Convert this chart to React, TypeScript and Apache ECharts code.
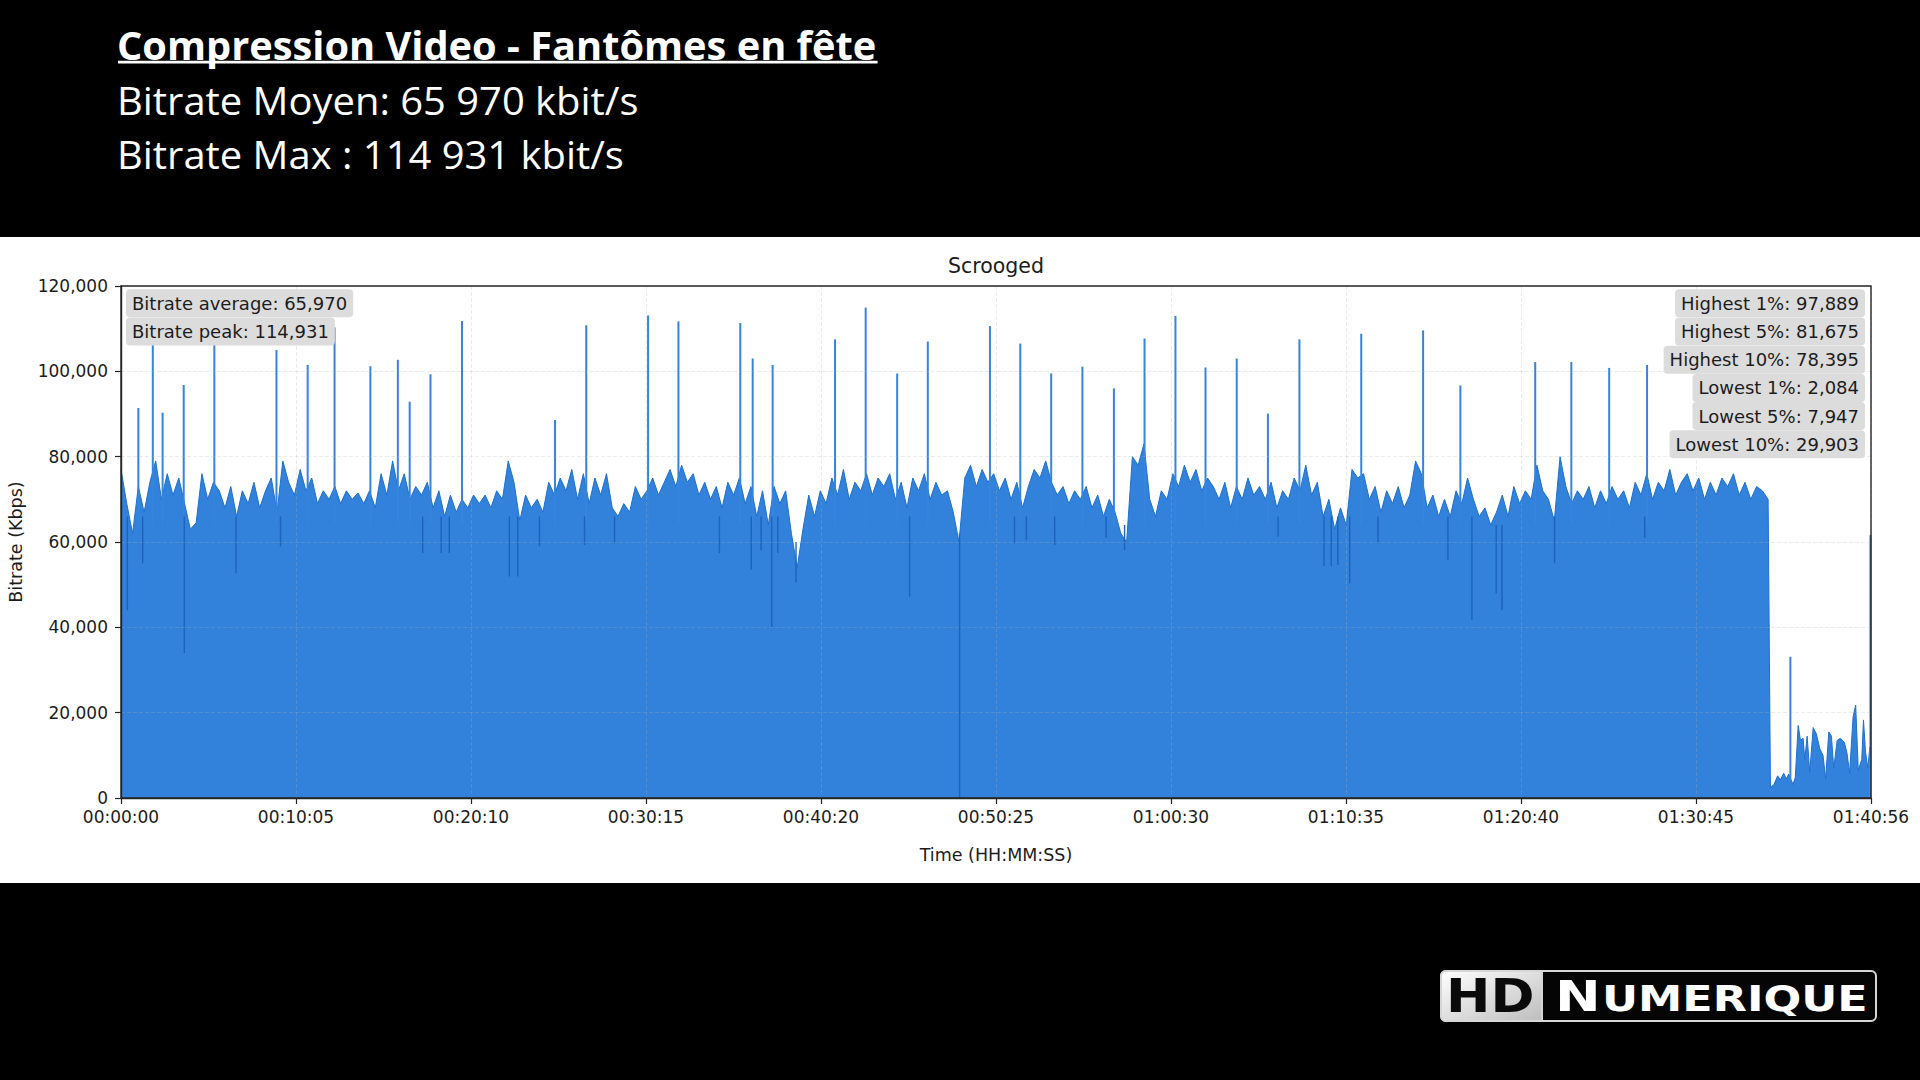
import React, { useEffect, useRef } from "react";
import * as echarts from "echarts";

// ---------- texts ----------
const headerTitle = "Compression Video - Fantômes en fête";
const headerLine2 = "Bitrate Moyen: 65 970 kbit/s";
const headerLine3 = "Bitrate Max : 114 931 kbit/s";
const chartTitle = "Scrooged";
const xAxisName = "Time (HH:MM:SS)";
const yAxisName = "Bitrate (Kbps)";

// ---------- axes ----------
const xTickLabels = [
  "00:00:00", "00:10:05", "00:20:10", "00:30:15", "00:40:20", "00:50:25",
  "01:00:30", "01:10:35", "01:20:40", "01:30:45", "01:40:56",
];
const DURATION_S = 6056;
const Y_MAX = 120000;
const Y_STEP = 20000;

// ---------- stats annotations ----------
const statsLeft = ["Bitrate average: 65,970", "Bitrate peak: 114,931"];
const statsRight = [
  "Highest 1%: 97,889",
  "Highest 5%: 81,675",
  "Highest 10%: 78,395",
  "Lowest 1%: 2,084",
  "Lowest 5%: 7,947",
  "Lowest 10%: 29,903",
];

// ---------- data (kbps), body sampled every 20 s from 0 to 5700 s ----------
const SAMPLE_STEP_S = 20;
const bitrateBody = [
  // 0 - 1520 s
  77000, 69000, 62000, 73000, 67000, 74000, 79000, 70000, 76000, 71000,
  75000, 69000, 63000, 64500, 76000, 70000, 74000, 72000, 68000, 73000,
  66000, 72000, 69000, 74000, 68000, 72000, 75000, 67000, 79000, 74000,
  71000, 77000, 72000, 75000, 69000, 72000, 70000, 73000, 69000, 72000,
  70000, 71500, 69000, 72000, 68000, 76000, 71000, 79000, 72000, 76000,
  70000, 73000, 71000, 74000, 68000, 72000, 66000, 71000, 67000, 70000,
  68000, 71000, 69000, 71000, 68000, 72000, 70000, 79000, 74000, 65000,
  71000, 68000, 70000, 67000, 74000, 71000, 75000,
  // 1540 - 3040 s
  72000, 77000, 70000, 76000, 69000, 75000, 71000, 76000, 68000, 66000,
  69000, 67000, 73000, 70000, 72000, 75000, 71000, 74000, 77000, 73000,
  78000, 74000, 76000, 71000, 74000, 70000, 73000, 68000, 74000, 71000,
  75000, 69000, 73000, 66000, 72000, 64000, 73000, 69000, 72000, 62000,
  54000, 63000, 71000, 66000, 72000, 69000, 75000, 71000, 77000, 70000,
  74000, 72000, 76000, 71000, 75000, 73000, 76000, 70000, 74000, 68000,
  75000, 72000, 76000, 70000, 74000, 71000, 72000, 67000, 60000, 75000,
  78000, 73000, 77000, 74000, 76000, 72000,
  // 3060 - 4560 s
  75000, 70000, 74000, 68000, 73000, 77000, 75000, 79000, 74000, 71000,
  73000, 69000, 72000, 70000, 73000, 68000, 71000, 66000, 70000, 67000,
  62000, 60000, 80000, 78000, 83000, 70000, 66000, 72000, 70000, 76000,
  73000, 78000, 74000, 77000, 72000, 75000, 73000, 70000, 74000, 68000,
  73000, 70000, 75000, 71000, 73000, 70000, 74000, 68000, 72000, 70000,
  75000, 72000, 78000, 71000, 74000, 66000, 70000, 63000, 68000, 64000,
  77000, 75000, 76000, 70000, 73000, 67000, 72000, 69000, 73000, 68000,
  71000, 79000, 76000, 68000, 71000, 66000,
  // 4580 - 5700 s
  70000, 66000, 72000, 69000, 75000, 70000, 66000, 68000, 64000, 67000,
  71000, 66000, 73000, 69000, 72000, 70000, 78000, 72000, 70000, 65000,
  80000, 73000, 69000, 72000, 70000, 73000, 68000, 72000, 69000, 73000,
  70000, 72000, 68000, 74000, 71000, 76000, 70000, 74000, 72000, 77000,
  71000, 74000, 76000, 72000, 75000, 70000, 74000, 71000, 75000, 73000,
  76000, 71000, 74000, 70000, 73000, 72000, 70000,
];

// last minutes after the drop: [time s, kbps]
const bitrateTail: [number, number][] = [
  [5708, 2600], [5719, 3000], [5733, 5200], [5742, 4200], [5754, 5800],
  [5763, 4500], [5771, 5600], [5786, 3200], [5794, 4800], [5804, 17000],
  [5812, 13500], [5821, 14000], [5827, 9000], [5835, 14500], [5844, 6000],
  [5856, 16500], [5867, 15000], [5879, 11500], [5890, 10000], [5899, 4500],
  [5910, 15500], [5919, 14500], [5927, 7000], [5939, 13500], [5950, 14000],
  [5964, 13000], [5973, 10500], [5982, 5800], [5994, 19000], [6003, 21800],
  [6012, 6500], [6024, 9000], [6030, 18300], [6037, 10800], [6045, 7000],
  [6052, 12000],
];

// isolated one-sample peaks: [time s, from kbps, peak kbps]
const spikes: [number, number, number][] = [
  [60, 64000, 91400], [110, 64000, 108000], [144, 64000, 90300], [217, 64000, 96800],
  [323, 64000, 108000], [538, 64000, 105000], [646, 64000, 101500], [739, 64000, 110300],
  [863, 64000, 101200], [958, 64000, 102700], [999, 64000, 92900], [1071, 64000, 99300],
  [1180, 64000, 111800], [1502, 64000, 88600], [1610, 64000, 110800], [1824, 64000, 113100],
  [1929, 64000, 111700], [2143, 64000, 111300], [2186, 64000, 103000], [2255, 64000, 101500],
  [2471, 64000, 107500], [2577, 64000, 114931], [2686, 64000, 99500], [2792, 64000, 107000],
  [3007, 64000, 110600], [3112, 64000, 106500], [3219, 64000, 99500], [3327, 64000, 101100],
  [3436, 64000, 96000], [3542, 64000, 107700], [3649, 64000, 113000], [3753, 64000, 100900],
  [3861, 64000, 103000], [3969, 64000, 90100], [4078, 64000, 107500], [4292, 64000, 108800],
  [4506, 64000, 109600], [4635, 64000, 96700], [4894, 64000, 102200], [5019, 64000, 102200],
  [5150, 64000, 100800], [5281, 64000, 101500], [5777, 4000, 33100], [6054, 0, 61600],
];

// isolated one-sample drops: [time s, low kbps, top kbps]
const dips: [number, number, number][] = [
  [22, 44000, 66000], [75, 55000, 66000], [219, 34000, 66000], [398, 52700, 66000],
  [552, 59000, 66000], [1044, 57400, 66000], [1108, 57400, 66000], [1136, 57400, 66000],
  [1344, 51900, 66000], [1373, 51900, 66000], [1448, 59000, 66000], [1604, 59300, 66000],
  [1708, 59700, 66000], [2071, 57400, 66000], [2181, 53500, 66000], [2215, 58000, 66000],
  [2252, 40000, 66000], [2273, 57400, 66000], [2336, 50500, 60000], [2729, 47200, 66000],
  [2902, 0, 62000], [3092, 59700, 66000], [3133, 60500, 66000], [3231, 59300, 66000],
  [3409, 61000, 66000], [3473, 58100, 64000], [4004, 61300, 66000], [4163, 54300, 66000],
  [4188, 54300, 66000], [4211, 54600, 66000], [4252, 50300, 66000], [4350, 59700, 66000],
  [4592, 55800, 66000], [4675, 41700, 66000], [4759, 48000, 64000], [4779, 44000, 64000],
  [4961, 55000, 66000], [5273, 61000, 66000],
];

// ---------- styling ----------
const FILL = "#3282dc";
const EDGE = "#1f6fcf";
const SPIKE = "#3584dd";
const DIP = "#1b63bd";
const INK = "#1c1c1c";
const DV = '"DejaVu Sans", sans-serif';
const OS = '"Open Sans", sans-serif';

const GRID = { left: 121, top: 286, width: 1750, height: 512 };

function measure(text: string, font: string): number {
  const c = document.createElement("canvas").getContext("2d");
  if (!c) return text.length * 20;
  c.font = font;
  return c.measureText(text).width;
}

export default function App() {
  const ref = useRef<HTMLDivElement>(null);

  useEffect(() => {
    if (!ref.current) return;
    const chart = echarts.init(ref.current, null, { renderer: "svg" });

    const xInterval = DURATION_S / 10;
    const lineData: [number, number][] = [
      ...bitrateBody.map((v, i) => [i * SAMPLE_STEP_S, v] as [number, number]),
      ...bitrateTail,
    ];

    const strokeItem = (color: string, width: number) => (params: any, api: any) => {
      const t = api.value(0);
      const p1 = api.coord([t, api.value(1)]);
      const p2 = api.coord([t, api.value(2)]);
      return {
        type: "line",
        shape: { x1: p1[0], y1: p1[1], x2: p2[0], y2: p2[1] },
        style: { stroke: color, lineWidth: width },
      };
    };

    const titleFont = `bold 39px ${OS}`;
    const titleScale = 1.02;
    const titleW = measure(headerTitle, titleFont) * titleScale;
    const lineScale = 1.065;

    const statBox = (text: string, x: number, y: number, align: string) => ({
      type: "text",
      z: 10,
      x,
      y,
      style: {
        text,
        fill: INK,
        font: `18px ${DV}`,
        align,
        verticalAlign: "middle",
        backgroundColor: "#dcdcdc",
        borderRadius: 4,
        padding: [5, 6, 5, 6],
        lineHeight: 18,
      },
    });

    const graphics: any[] = [
      { type: "rect", z: 0, shape: { x: 0, y: 237, width: 1920, height: 646 }, style: { fill: "#ffffff" } },
      { type: "text", z: 1, x: 117, y: 45, scaleX: titleScale, style: { text: headerTitle, fill: "#fff", font: titleFont, align: "left", verticalAlign: "middle" } },
      { type: "rect", z: 1, shape: { x: 118, y: 60.8, width: titleW, height: 2.6 }, style: { fill: "#fff" } },
      { type: "text", z: 1, x: 117, y: 100.5, scaleX: lineScale, style: { text: headerLine2, fill: "#fff", font: `37.5px ${OS}`, align: "left", verticalAlign: "middle" } },
      { type: "text", z: 1, x: 117, y: 154.5, scaleX: lineScale, style: { text: headerLine3, fill: "#fff", font: `37.5px ${OS}`, align: "left", verticalAlign: "middle" } },
      { type: "text", z: 1, x: GRID.left + GRID.width / 2, y: 266, style: { text: chartTitle, fill: INK, font: `20.5px ${DV}`, align: "center", verticalAlign: "middle" } },
      { type: "text", z: 1, x: GRID.left + GRID.width / 2, y: 855, style: { text: xAxisName, fill: INK, font: `17.5px ${DV}`, align: "center", verticalAlign: "middle" } },
      { type: "text", z: 1, x: 16, y: 542, rotation: Math.PI / 2, style: { text: yAxisName, fill: INK, font: `17.5px ${DV}`, align: "center", verticalAlign: "middle" } },
      { type: "rect", z: 6, shape: { x: GRID.left, y: GRID.top, width: GRID.width, height: GRID.height }, style: { fill: "none", stroke: "#262626", lineWidth: 1.4 } },
      ...statsLeft.map((s, i) => statBox(s, 126, 303.3 + i * 28.2, "left")),
      ...statsRight.map((s, i) => statBox(s, 1865, 303.3 + i * 28.2, "right")),
      // logo
      { type: "rect", z: 1, shape: { x: 1441, y: 971, width: 435, height: 50, r: 5 }, style: { fill: "#050505", stroke: "#d6d6d6", lineWidth: 2 } },
      {
        type: "rect", z: 2, shape: { x: 1441, y: 971, width: 101, height: 50, r: [5, 0, 0, 5] },
        style: {
          fill: new echarts.graphic.LinearGradient(0, 0, 1, 1, [
            { offset: 0, color: "#ffffff" },
            { offset: 1, color: "#bdbdbd" },
          ]),
          stroke: "#d6d6d6", lineWidth: 2,
        },
      },
      {
        type: "group", z: 3, x: 1446, y: 0, scaleX: 1.13,
        children: [
          { type: "text", z: 3, x: 0, y: 995.5, style: { text: "HD", fill: "#0a0a0a", font: `bold 47px ${DV}`, align: "left", verticalAlign: "middle" } },
        ],
      },
      {
        type: "group", z: 3, x: 1555, y: 0, scaleX: 1.27,
        children: [
          { type: "text", z: 3, x: 0, y: 995.8, style: { text: "N", fill: "#ffffff", font: `bold 43px ${DV}`, align: "left", verticalAlign: "middle" } },
          { type: "text", z: 3, x: 37, y: 998.6, style: { text: "UMERIQUE", fill: "#ffffff", font: `bold 35px ${DV}`, align: "left", verticalAlign: "middle" } },
        ],
      },
    ];

    const axisCommon = {
      z: 5,
      axisLine: { show: true, onZero: false, lineStyle: { color: "#262626", width: 1.4 } },
      axisTick: { show: true, length: 6, lineStyle: { color: "#262626", width: 1.2 } },
      splitLine: { show: true, lineStyle: { color: "rgba(176,176,176,0.25)", type: "dashed", width: 1 } },
    };

    chart.setOption({
      animation: false,
      backgroundColor: "#000000",
      grid: { ...GRID, containLabel: false },
      xAxis: {
        type: "value",
        min: 0,
        max: DURATION_S,
        interval: xInterval,
        ...axisCommon,
        axisLabel: {
          formatter: (v: number) => xTickLabels[Math.round(v / xInterval)] ?? "",
          fontFamily: DV,
          fontSize: 17,
          color: INK,
          margin: 10,
          showMaxLabel: true,
          showMinLabel: true,
        },
      },
      yAxis: {
        type: "value",
        min: 0,
        max: Y_MAX,
        interval: Y_STEP,
        ...axisCommon,
        axisLabel: {
          formatter: (v: number) => v.toLocaleString("en-US"),
          fontFamily: DV,
          fontSize: 17,
          color: INK,
          margin: 13,
        },
      },
      series: [
        {
          type: "line",
          z: 2,
          data: lineData,
          showSymbol: false,
          symbol: "none",
          lineStyle: { color: EDGE, width: 1 },
          areaStyle: { color: FILL, opacity: 1 },
        },
        {
          type: "custom",
          z: 3,
          data: spikes,
          encode: { x: 0, y: [1, 2] },
          renderItem: strokeItem(SPIKE, 2),
        },
        {
          type: "custom",
          z: 3,
          data: dips,
          encode: { x: 0, y: [1, 2] },
          renderItem: strokeItem(DIP, 1.4),
        },
      ],
      graphic: graphics,
    });

    return () => chart.dispose();
  }, []);

  return (
    <div
      ref={ref}
      style={{ position: "fixed", left: 0, top: 0, width: 1920, height: 1080, background: "#000" }}
    />
  );
}
